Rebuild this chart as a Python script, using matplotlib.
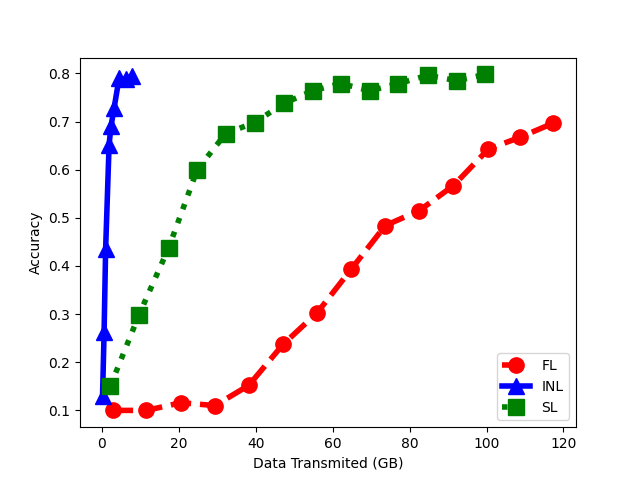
import matplotlib
matplotlib.use("Agg")
import matplotlib.pyplot as plt

fl_x = [2.8, 11.6, 20.6, 29.4, 38.2, 47.1, 56.0, 64.8, 73.7, 82.5, 91.4, 100.5, 108.6, 117.4]
fl_y = [0.100, 0.100, 0.116, 0.110, 0.152, 0.237, 0.303, 0.393, 0.484, 0.515, 0.567, 0.643, 0.667, 0.697]

inl_x = [0.2, 0.6, 1.0, 1.9, 2.4, 3.2, 4.5, 6.2, 7.8]
inl_y = [0.130, 0.262, 0.435, 0.652, 0.690, 0.728, 0.790, 0.788, 0.795]

sl_x = [2.2, 9.7, 17.4, 24.8, 32.2, 39.7, 47.4, 54.8, 62.1, 69.7, 77.1, 84.7, 92.3, 99.7]
sl_y = [0.150, 0.299, 0.438, 0.600, 0.675, 0.698, 0.738, 0.764, 0.779, 0.764, 0.779, 0.796, 0.785, 0.798]

fig, ax = plt.subplots(figsize=(6.4, 4.8), dpi=100)
ax.plot(fl_x, fl_y, 'ro--', linewidth=4, markersize=11, label='FL')
ax.plot(inl_x, inl_y, 'b^-', linewidth=4, markersize=11, label='INL')
ax.plot(sl_x, sl_y, 'gs:', linewidth=4, markersize=11, label='SL')
ax.set_xlabel('Data Transmited (GB)')
ax.set_ylabel('Accuracy')
ax.legend(loc='lower right')
fig.savefig('out.png', dpi=100)
